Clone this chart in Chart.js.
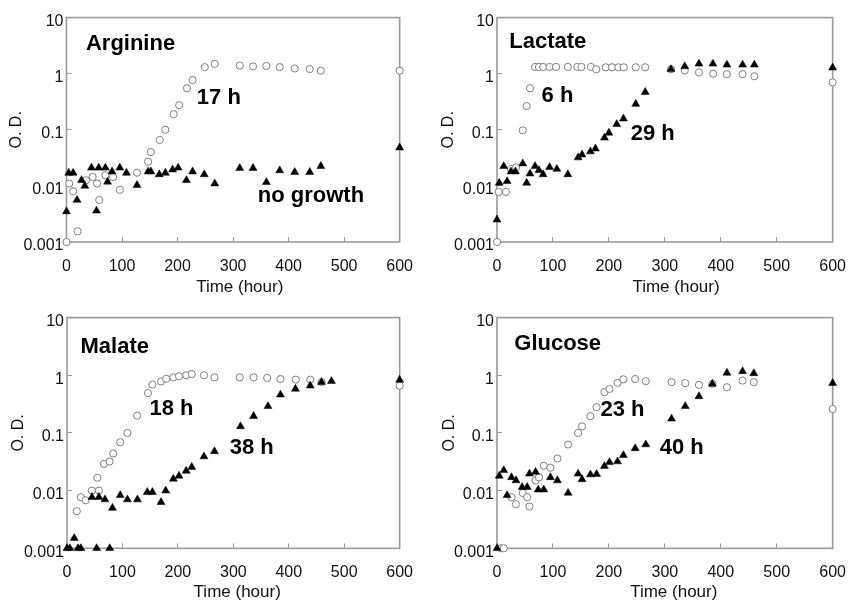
<!DOCTYPE html>
<html><head><meta charset="utf-8">
<script src="https://cdn.jsdelivr.net/npm/chart.js@4.4.1/dist/chart.umd.min.js"></script>
<style>
html,body{margin:0;padding:0;background:#fff;}
#wrap{position:relative;width:866px;height:601px;overflow:hidden;background:#fff;}
canvas{position:absolute;}
</style></head><body>
<div id="wrap">
<canvas id="c1" width="433" height="300" style="left:0px;top:0px"></canvas>
<canvas id="c2" width="433" height="300" style="left:433px;top:0px"></canvas>
<canvas id="c3" width="433" height="301" style="left:0px;top:300px"></canvas>
<canvas id="c4" width="433" height="301" style="left:433px;top:300px"></canvas>
</div>
<script>
// ---- tick labels ----
const xTickValues = [0, 100, 200, 300, 400, 500, 600];
const xTickLabels = ['0', '100', '200', '300', '400', '500', '600'];
const yTickValues = [0.001, 0.01, 0.1, 1, 10];
const yTickLabels = ['0.001', '0.01', '0.1', '1', '10'];
const xAxisTitle = 'Time (hour)';
const yAxisTitle = 'O. D.';

// ---- Arginine ----
const argCircleT = [0,5,12,20,35,47,55,59,70,84,96,127,147,152,168,178,193,203,217,227,249,267,312,336,360,384,411,438,458,600];
const argCircleOD = [0.001,0.011,0.008,0.00155,0.0126,0.0144,0.011,0.0056,0.0155,0.0144,0.0085,0.0172,0.027,0.04,0.066,0.1,0.19,0.275,0.55,0.77,1.31,1.5,1.4,1.35,1.37,1.31,1.24,1.21,1.13,1.13];
const argTriT = [0,4,12,19,27,33,45,54,58,70,74,82,96,108,127,147,152,167,178,191,201,216,227,248,267,312,336,360,384,411,438,458,600];
const argTriOD = [0.0035,0.017,0.017,0.0056,0.0126,0.01,0.021,0.0036,0.021,0.021,0.0118,0.018,0.021,0.017,0.0103,0.018,0.018,0.016,0.017,0.0195,0.021,0.0126,0.018,0.016,0.011,0.0207,0.0207,0.0116,0.0188,0.0176,0.0176,0.0225,0.048];

// ---- Lactate ----
const lacCircleT = [0,3,16,25,34,46,53,59,68,75,82.5,94,105.6,126.6,143.6,150.8,167.8,177.4,194.4,205.7,217,226.6,248,265,311,335.6,361,386.4,410.7,439,460,600];
const lacCircleOD = [0.001,0.0078,0.0078,0.02,0.0215,0.098,0.265,0.55,1.32,1.32,1.32,1.32,1.32,1.32,1.32,1.32,1.32,1.2,1.3,1.3,1.3,1.3,1.3,1.3,1.2,1.14,1.05,1.0,0.98,0.98,0.9,0.7];
const lacTriT = [0,4,12,18,25,33,46,53,59,68,75,82.5,94,107,126.6,145,152,167,176,192,200,214,226,248,265,311,335.6,361,386,411,439,460,600];
const lacTriOD = [0.0025,0.0113,0.0224,0.0121,0.018,0.018,0.025,0.0113,0.0165,0.0224,0.019,0.016,0.0215,0.02,0.016,0.032,0.036,0.041,0.046,0.072,0.088,0.126,0.158,0.288,0.47,1.2,1.35,1.5,1.5,1.44,1.44,1.44,1.28];

// ---- Malate ----
const malCircleT = [17.7,25,33.6,44.8,54.7,57.5,66.8,76.7,83.4,96,109,126.5,146,154,169.6,179,191.8,202,215,225,247,266,311.6,336.5,361,385,412.7,438.7,459,600];
const malCircleOD = [0.0044,0.0077,0.0068,0.01,0.0167,0.01,0.029,0.032,0.044,0.069,0.1,0.2,0.49,0.69,0.78,0.87,0.92,0.96,1.0,1.05,1.0,0.92,0.92,0.92,0.9,0.86,0.84,0.84,0.76,0.66];
const malTriT = [0,5,13,20,25,45,53.5,57.5,68.5,77,82,96,109,127,144.8,154,169.6,178,191.8,202,215,225,247,266,313,336.5,362.5,385,412,438.7,459,477,600];
const malTriOD = [0.001,0.001,0.0015,0.001,0.001,0.0077,0.001,0.0077,0.007,0.001,0.005,0.0083,0.007,0.007,0.0094,0.0094,0.0063,0.01,0.016,0.018,0.022,0.0255,0.039,0.048,0.13,0.195,0.29,0.46,0.58,0.66,0.76,0.79,0.83];

// ---- Glucose ----
const gluCircleT = [7,12,26,33.7,46,54,58,69,75,83.5,95.5,108,127,145,152,167,178,192,201,215.5,226,247,266,312,336.5,361,385,411,439,459,600];
const gluCircleOD = [0.001,0.001,0.0077,0.0058,0.0091,0.0077,0.0053,0.015,0.017,0.027,0.025,0.036,0.063,0.10,0.13,0.195,0.28,0.51,0.58,0.74,0.85,0.86,0.79,0.76,0.73,0.68,0.71,0.62,0.81,0.76,0.26];
const gluTriT = [0,4,12,18,26,34,45,54,58,69,73.7,83.5,95.5,108,127,145,152,167,178,192,201,215.5,226,247,266,312,336.5,361,385,411,439,459,600];
const gluTriOD = [0.001,0.018,0.0225,0.0083,0.017,0.015,0.0115,0.0115,0.0196,0.021,0.0104,0.0104,0.017,0.015,0.0091,0.0196,0.0157,0.019,0.0193,0.0266,0.031,0.032,0.041,0.054,0.063,0.176,0.29,0.43,0.71,1.1,1.17,1.08,0.73];

// ---- in-panel annotations (text, anchored in data units) ----
const argNotes = [['Arginine', 35, 2.6], ['17 h', 234.7, 0.294], ['no growth', 344.5, 0.0052]];
const lacNotes = [['Lactate', 22, 2.82], ['6 h', 79.7, 0.307], ['29 h', 239, 0.066]];
const malNotes = [['Malate', 24.4, 2.41], ['18 h', 148.7, 0.203], ['38 h', 293.4, 0.043]];
const gluNotes = [['Glucose', 30.9, 2.72], ['23 h', 185, 0.195], ['40 h', 291, 0.043]];

const FONT = '"Liberation Sans", Arial, Helvetica, sans-serif';
const FRAME = '#9a9a9a';

const decorPlugin = {
  id: 'decor',
  beforeDatasetsDraw(chart) {
    const {ctx, chartArea: a} = chart;
    ctx.save();
    ctx.strokeStyle = FRAME;
    ctx.lineWidth = 1.6;
    ctx.strokeRect(a.left, a.top, a.right - a.left, a.bottom - a.top);
    ctx.restore();
  },
  afterDraw(chart, args, opts) {
    const {ctx, chartArea: a} = chart;
    const xs = chart.scales.x, ys = chart.scales.y;
    ctx.save();
    ctx.fillStyle = '#000';
    ctx.textAlign = 'left';
    ctx.textBaseline = 'alphabetic';
    ctx.font = 'bold 22px ' + FONT;
    opts.notes.forEach(n => ctx.fillText(n[0], xs.getPixelForValue(n[1]), ys.getPixelForValue(n[2])));
    ctx.font = '17px ' + FONT;
    ctx.textAlign = 'center';
    ctx.fillStyle = '#111';
    ctx.fillText(xAxisTitle, xs.getPixelForValue(opts.titleT), a.bottom + opts.titleDy);
    ctx.restore();
  }
};

function pts(t, v) { return t.map((x, i) => ({x: x, y: v[i]})); }

function makePanel(id, cT, cV, tT, tV, notes, L) {
  new Chart(document.getElementById(id), {
    type: 'scatter',
    data: {
      datasets: [
        {data: pts(tT, tV), pointStyle: 'triangle', pointRadius: 4.6, pointBackgroundColor: '#000', pointBorderColor: '#000', pointBorderWidth: 0.5, clip: false},
        {data: pts(cT, cV), pointStyle: 'circle', pointRadius: 3.6, pointBackgroundColor: '#fff', pointBorderColor: '#7f7f7f', pointBorderWidth: 1, clip: false}
      ]
    },
    options: {
      responsive: false,
      animation: false,
      devicePixelRatio: 1,
      layout: {autoPadding: false, padding: {left: 0, top: L.padTop, right: L.padRight, bottom: 0}},
      plugins: {legend: {display: false}, tooltip: {enabled: false},
        decor: {notes: notes, titleT: L.titleT, titleDy: L.titleDy}},
      scales: {
        x: {
          type: 'linear', min: 0, max: 600,
          afterBuildTicks: s => { s.ticks = xTickValues.map(v => ({value: v})); },
          afterFit: s => { s.height = L.xHeight; },
          grid: {drawOnChartArea: false, drawTicks: true, tickLength: -5, color: FRAME, lineWidth: 1},
          border: {display: false},
          ticks: {padding: 20, color: '#111', font: {family: FONT, size: 16}, maxRotation: 0, autoSkip: false,
            callback: (v, i) => xTickLabels[i]}
        },
        y: {
          type: 'logarithmic', min: 0.001, max: 10,
          afterBuildTicks: s => { s.ticks = yTickValues.map(v => ({value: v})); },
          afterFit: s => { s.width = L.yWidth; },
          grid: {drawOnChartArea: false, drawTicks: true, tickLength: -5, color: FRAME, lineWidth: 1},
          border: {display: false},
          title: {display: true, text: yAxisTitle, color: '#111', font: {family: FONT, size: 16}, padding: {top: L.yTitlePad, bottom: 0}},
          ticks: {padding: 8, labelOffset: 4, color: '#111', font: {family: FONT, size: 16}, autoSkip: false,
            callback: (v, i) => yTickLabels[i]}
        }
      }
    },
    plugins: [decorPlugin]
  });
}

makePanel('c1', argCircleT, argCircleOD, argTriT, argTriOD, argNotes,
  {padTop: 13.5, padRight: 15, yWidth: 66.5, xHeight: 58, yTitlePad: 7.4, titleT: 312, titleDy: 50});
makePanel('c2', lacCircleT, lacCircleOD, lacTriT, lacTriOD, lacNotes,
  {padTop: 13.5, padRight: 15, yWidth: 64, xHeight: 58, yTitlePad: 6.4, titleT: 320, titleDy: 50});
makePanel('c3', malCircleT, malCircleOD, malTriT, malTriOD, malNotes,
  {padTop: 17.3, padRight: 4, yWidth: 67, xHeight: 52.7, yTitlePad: 8.7, titleT: 307, titleDy: 49});
makePanel('c4', gluCircleT, gluCircleOD, gluTriT, gluTriOD, gluNotes,
  {padTop: 17.3, padRight: 19, yWidth: 64, xHeight: 52.7, yTitlePad: 6.9, titleT: 316, titleDy: 49});
</script>
</body></html>
